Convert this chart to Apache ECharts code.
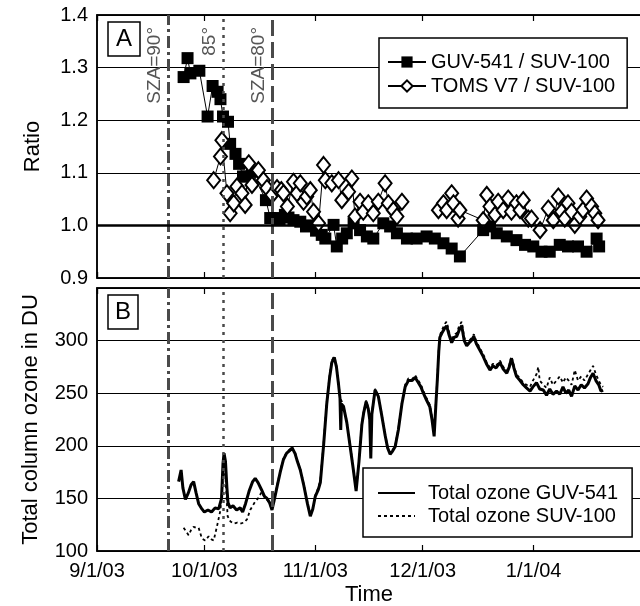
<!DOCTYPE html>
<html>
<head>
<meta charset="utf-8">
<style>
    body{ margin:0; padding:0; background:#fff; }
    #chart{ width:640px; height:606px; }
</style>
</head>
<body>
<div id="chart"></div>
<script src="https://cdn.jsdelivr.net/npm/echarts@6/dist/echarts.min.js"></script>
<script>
// all x values are days counted from 9/1/03
var guvRatioDays = [24.2,25.3,26.1,28.6,30.9,32.3,33.7,34.5,35.2,36.6,37.2,38.7,39.7,40.8,41.9,43.3,47.2,48.4,49.7,51,52.5,53.5,54.9,56.8,58.4,59.1,61.2,62.8,63.8,66.1,67,68.5,69.8,71.7,73.5,75.4,77.2,80,81.9,83.8,86.6,89.3,92.1,94.4,96.8,99.1,101.4,107.9,109.8,111.7,114.5,117.2,119.6,121.9,124.2,126.5,129.3,131.6,134.4,136.8,139.6,140.3];
var guvRatio = [1.282,1.318,1.289,1.294,1.207,1.265,1.254,1.240,1.207,1.197,1.155,1.136,1.117,1.093,1.093,1.102,1.048,1.014,1.014,1.012,1.020,1.015,1.010,1.007,0.998,1.000,0.990,0.982,0.975,1.001,0.960,0.975,0.985,1.004,0.991,0.979,0.975,1.004,0.998,0.985,0.975,0.975,0.979,0.975,0.966,0.956,0.941,0.991,0.998,0.985,0.979,0.972,0.963,0.960,0.950,0.950,0.963,0.960,0.960,0.950,0.975,0.960];

var tomsRatioDays = [32.6,34.5,34.9,36.3,37.2,38.2,39.1,40.5,41.4,42.4,43.3,45.1,46.5,47.5,48.9,50.3,51.5,52.1,53.2,54.9,55.9,56.8,57.7,58.6,59.6,60.5,61.9,63.3,63.8,65.6,67.5,68.4,70.3,71.2,72.1,73.5,74.4,75.8,77.2,78.6,80.5,81.4,82.8,83.8,85.2,90,95.4,96.8,97.7,99.1,99.6,100.9,101.4,107.9,108.9,109.8,111.2,112.1,113.5,114.9,115.8,117.2,118.2,119.1,120.5,121.4,123.8,126.1,127.5,128.9,129.8,130.7,131.6,132.6,133.5,134.9,135.8,136.8,138.2,139.1,140.0];
var tomsRatio = [1.086,1.131,1.162,1.061,1.023,1.042,1.074,1.061,1.039,1.118,1.077,1.105,1.086,1.071,1.058,1.071,1.067,1.061,1.036,1.083,1.061,1.080,1.045,1.055,1.067,1.026,1.004,1.115,1.086,1.080,1.086,1.048,1.064,1.089,1.017,1.045,1.026,1.042,1.023,1.045,1.080,1.042,1.029,1.017,1.045,'-',1.029,1.042,1.029,1.061,1.042,1.013,1.029,1.010,1.058,1.036,1.020,1.045,1.029,1.051,1.026,1.042,1.029,1.048,1.013,1.013,0.991,1.032,1.010,1.055,1.026,1.013,1.042,1.026,1.001,1.017,1.029,1.051,1.036,1.023,1.010];

var guvOzoneDays = [22.8,23.5,24.0,24.7,25.5,26.3,27.0,27.7,28.4,29.3,30.0,31.0,32.0,33.0,34.0,34.8,35.2,35.5,35.9,36.3,36.6,37.2,38.0,39.0,40.0,40.7,41.5,42.5,43.5,44.2,45.0,46.0,46.8,47.5,48.2,48.9,49.5,50.3,51.2,52.1,53.0,54.0,54.5,55.3,56.0,56.8,57.8,58.8,59.6,60.3,61.0,61.8,62.4,63.3,64.2,65.0,65.6,66.3,66.9,67.5,67.9,68.1,68.3,68.9,69.8,70.7,71.6,72.4,73.2,74.0,74.5,75.2,75.8,76.2,76.5,76.8,77.7,78.6,79.5,80.5,81.2,81.9,82.6,83.3,84.2,85.2,86.1,87.0,88.0,88.9,89.8,90.5,91.2,92.0,93.0,93.6,94.2,94.7,95.1,95.5,95.8,96.5,97.2,97.7,98.4,99.1,99.8,100.5,101.2,101.9,102.6,103.3,104.0,104.6,105.3,106.0,106.8,107.9,108.8,109.8,110.6,111.5,112.6,113.5,114.5,115.2,115.8,116.5,117.2,118.2,119.1,120.0,121.0,121.8,122.8,123.7,124.7,125.6,126.5,127.4,128.4,129.3,130.2,131.0,131.8,132.6,133.5,134.4,135.3,136.2,137.2,137.9,138.6,139.4,140.2,140.8,141.4];
var guvOzone = [166,177,160,149,155,163,166,155,145,140,137,139,137,141,140,150,183,193,185,160,146,141,143,139,141,137,145,157,166,169,165,158,152,150,146,139,148,161,175,187,193,196,198,193,185,177,162,145,133,140,152,158,165,200,240,265,279,284,275,258,245,215,240,237,222,200,178,157,185,220,231,242,235,225,188,230,253,247,230,210,198,192,195,199,215,240,256,262,262,265,260,256,250,244,237,225,209,240,263,290,303,308,312,314,305,298,303,304,310,314,300,295,298,300,304,297,292,285,278,272,276,274,279,273,269,275,283,274,266,262,258,255,252,256,260,254,253,248,254,249,252,249,256,250,253,247,257,253,258,255,259,265,269,262,258,252,253];

var suvOzoneDays = [24.2,25.0,25.6,26.3,27.0,27.7,28.4,29.3,30.2,31.2,32.0,32.6,33.5,34.5,35.0,35.4,35.9,36.5,37.3,38.2,39.2,40.0,41.0,41.9,42.8,43.5,44.2,45.0,46.0,46.8,47.5,48.2,48.9,49.5,50.3,51.2,52.1,53.0,54.0,54.5,55.3,56.0,56.8,57.8,58.8,59.6,60.3,61.0,61.8,62.4,63.3,64.2,65.0,65.6,66.3,66.9,67.5,67.9,68.9,69.8,70.7,71.6,72.4,73.2,74.0,74.5,75.2,75.8,76.2,76.8,77.7,78.6,79.5,80.5,81.2,81.9,82.6,83.3,84.2,85.2,86.1,87.0,88.0,88.9,89.8,90.5,91.2,92.0,93.0,93.6,94.2,94.7,95.1,95.5,95.8,96.5,97.2,97.7,98.4,99.1,99.8,100.5,101.2,101.9,102.6,103.3,104.0,104.6,105.3,106.0,106.8,107.9,108.8,109.8,110.6,111.5,112.6,113.5,114.5,115.2,115.8,116.5,117.2,118.2,119.1,120.0,121.0,121.8,122.8,123.3,123.7,124.7,125.6,126.5,127.4,128.4,129.3,130.2,131.0,131.8,132.6,133.5,134.4,135.3,136.2,137.2,137.9,138.6,139.4,140.2,140.8,141.4];
var suvOzone = [122,118,115,120,123,122,122,112,110,114,111,110,123,139,160,180,170,133,128,126,127,126,127,130,139,143,147,150,156,151,149,145,140,149,162,176,188,194,197,199,194,186,178,163,146,134,141,153,160,167,202,242,267,281,285,276,259,246,238,223,201,179,158,186,221,232,243,236,226,231,254,248,231,211,199,193,196,200,216,241,258,264,263,267,262,258,252,246,239,227,211,242,265,292,305,311,316,318,308,300,306,307,314,318,303,297,300,302,306,299,294,287,280,274,278,276,281,275,271,277,285,276,268,264,260,258,256,262,268,275,262,258,255,265,258,262,266,260,265,262,258,272,262,266,262,268,272,276,268,262,258,256];

// vertical solar zenith angle markers
var szaDays = [19.95, 35.3, 49.0];
var szaLabels = ['SZA=90°', '85°', 'SZA=80°'];

var yTicksA = [0.9, 1.4, 0.1];
var yTicksB = [100, 350, 50];

var day0 = Date.UTC(2003, 8, 1);
var xMin = day0;
var xMax = Date.UTC(2004, 0, 31);
var font = '"Liberation Sans", Arial, Helvetica, sans-serif';

function toTime(d){
    return day0 + d * 86400000;
}
function pairs(days, vals){
    var out = [];
    for (var i = 0; i < days.length; i++){
        out.push([toTime(days[i]), vals[i]]);
    }
    return out;
}
function dateLabel(v){
    var d = new Date(v);
    return (d.getUTCMonth() + 1) + '/' + d.getUTCDate() + '/' + String(d.getUTCFullYear()).slice(2);
}

var szaStyles = [
    {type: [12, 4, 3, 4], width: 3},
    {type: [3, 5], width: 2.5},
    {type: [16, 6], width: 3}
];
function szaLines(withLabel){
    var out = [];
    for (var i = 0; i < szaDays.length; i++){
        out.push({
            xAxis: toTime(szaDays[i]),
            lineStyle: {color: '#4a4a4a', type: szaStyles[i].type, width: szaStyles[i].width},
            label: {
                show: withLabel,
                formatter: szaLabels[i],
                position: 'insideEndTop',
                color: '#555',
                fontSize: 19,
                fontFamily: font,
                distance: [12, 4]
            }
        });
    }
    return out;
}

function xAxisFor(grid, pos, labels){
    return {
        type: 'time', gridIndex: grid, position: pos, min: xMin, max: xMax,
        splitNumber: 5,
        axisLine: {show: true, lineStyle: {color: '#000', width: 1.5}},
        axisTick: {show: true, inside: true, length: 6, lineStyle: {color: '#000', width: 1.2}},
        axisLabel: {show: labels, formatter: dateLabel, color: '#000', fontSize: 20, fontFamily: font, margin: 10, hideOverlap: false},
        splitLine: {show: false},
        name: labels ? 'Time' : '', nameLocation: 'middle', nameGap: 33,
        nameTextStyle: {fontSize: 22, color: '#000', fontFamily: font}
    };
}

var chart = echarts.init(document.getElementById('chart'), null, {renderer: 'canvas'});
var option = {
    useUTC: true,
    animation: false,
    backgroundColor: '#fff',
    grid: [
        {left: 97, right: -1, top: 15, height: 263, show: true, borderColor: '#000', borderWidth: 1.5, outerBoundsMode: 'none'},
        {left: 97, right: -1, top: 288, height: 263, show: true, borderColor: '#000', borderWidth: 1.5, outerBoundsMode: 'none'}
    ],
    title: [
        {text: 'A', left: 108, top: 22, padding: [5, 8, 5, 8], borderColor: '#000', borderWidth: 1.5, backgroundColor: '#fff',
            textStyle: {fontSize: 24, fontWeight: 'normal', color: '#000', fontFamily: font}},
        {text: 'B', left: 108, top: 295, padding: [5, 7, 5, 7], borderColor: '#000', borderWidth: 1.5, backgroundColor: '#fff',
            textStyle: {fontSize: 24, fontWeight: 'normal', color: '#000', fontFamily: font}}
    ],
    legend: [
        {
            data: ['GUV-541 / SUV-100', 'TOMS V7 / SUV-100'],
            orient: 'vertical', left: 379, top: 38,
            padding: [14, 12, 12, 8], itemGap: 4, itemWidth: 38, itemHeight: 14,
            backgroundColor: '#fff', borderColor: '#000', borderWidth: 1.5,
            textStyle: {fontSize: 20, color: '#000', fontFamily: font}
        },
        {
            data: ['Total ozone GUV-541', 'Total ozone SUV-100'],
            orient: 'vertical', left: 363, top: 468,
            padding: [15, 14, 11, 14], itemGap: 3, itemWidth: 37, itemHeight: 14,
            backgroundColor: '#fff', borderColor: '#000', borderWidth: 1.5,
            itemStyle: {color: 'rgba(0,0,0,0)', borderWidth: 0},
            textStyle: {fontSize: 20, color: '#000', fontFamily: font, padding: [0, 0, 0, 8]}
        }
    ],
    xAxis: [
        xAxisFor(0, 'bottom', false),
        xAxisFor(0, 'top', false),
        xAxisFor(1, 'bottom', true),
        xAxisFor(1, 'top', false)
    ],
    yAxis: [
        {
            type: 'value', gridIndex: 0, min: yTicksA[0], max: yTicksA[1], interval: yTicksA[2],
            axisLine: {show: true, lineStyle: {color: '#000', width: 1.5}},
            axisTick: {show: false},
            axisLabel: {formatter: function(v){ return v.toFixed(1); }, color: '#000', fontSize: 20, fontFamily: font, margin: 9},
            splitLine: {show: true, lineStyle: {color: '#000', width: 1}},
            name: 'Ratio', nameLocation: 'middle', nameGap: 53,
            nameTextStyle: {fontSize: 22, color: '#000', fontFamily: font}
        },
        {
            type: 'value', gridIndex: 1, min: yTicksB[0], max: yTicksB[1], interval: yTicksB[2],
            axisLine: {show: true, lineStyle: {color: '#000', width: 1.5}},
            axisTick: {show: false},
            axisLabel: {formatter: function(v){ return v === 350 ? '' : v; }, color: '#000', fontSize: 20, fontFamily: font, margin: 9},
            splitLine: {show: true, lineStyle: {color: '#000', width: 1}},
            name: 'Total column ozone in DU', nameLocation: 'middle', nameGap: 55,
            nameTextStyle: {fontSize: 22, color: '#000', fontFamily: font}
        }
    ],
    series: [
        {
            name: 'GUV-541 / SUV-100', type: 'line', xAxisIndex: 0, yAxisIndex: 0,
            data: pairs(guvRatioDays, guvRatio),
            symbol: 'rect', symbolSize: 12, showAllSymbol: true,
            itemStyle: {color: '#000'},
            lineStyle: {color: '#000', width: 1},
            markLine: {
                silent: true, symbol: ['none', 'none'],
                data: szaLines(true).concat([{yAxis: 1.0, lineStyle: {color: '#000', type: 'solid', width: 2.5}, label: {show: false}}])
            }
        },
        {
            name: 'TOMS V7 / SUV-100', type: 'line', xAxisIndex: 0, yAxisIndex: 0,
            data: pairs(tomsRatioDays, tomsRatio),
            symbol: 'diamond', symbolSize: [13, 16], showAllSymbol: true,
            itemStyle: {color: '#fff', borderColor: '#000', borderWidth: 2},
            lineStyle: {color: '#000', width: 1}
        },
        {
            name: 'Total ozone SUV-100', type: 'line', xAxisIndex: 2, yAxisIndex: 1,
            data: pairs(suvOzoneDays, suvOzone),
            showSymbol: false, symbol: 'none',
            lineStyle: {color: '#000', width: 1.8, type: [3, 3]},
            itemStyle: {color: '#000'}
        },
        {
            name: 'Total ozone GUV-541', type: 'line', xAxisIndex: 2, yAxisIndex: 1,
            data: pairs(guvOzoneDays, guvOzone),
            showSymbol: false, symbol: 'none',
            lineStyle: {color: '#000', width: 3},
            itemStyle: {color: '#000'},
            markLine: {
                silent: true, symbol: ['none', 'none'],
                data: szaLines(false)
            }
        }
    ]
};
chart.setOption(option);
</script>
</body>
</html>
